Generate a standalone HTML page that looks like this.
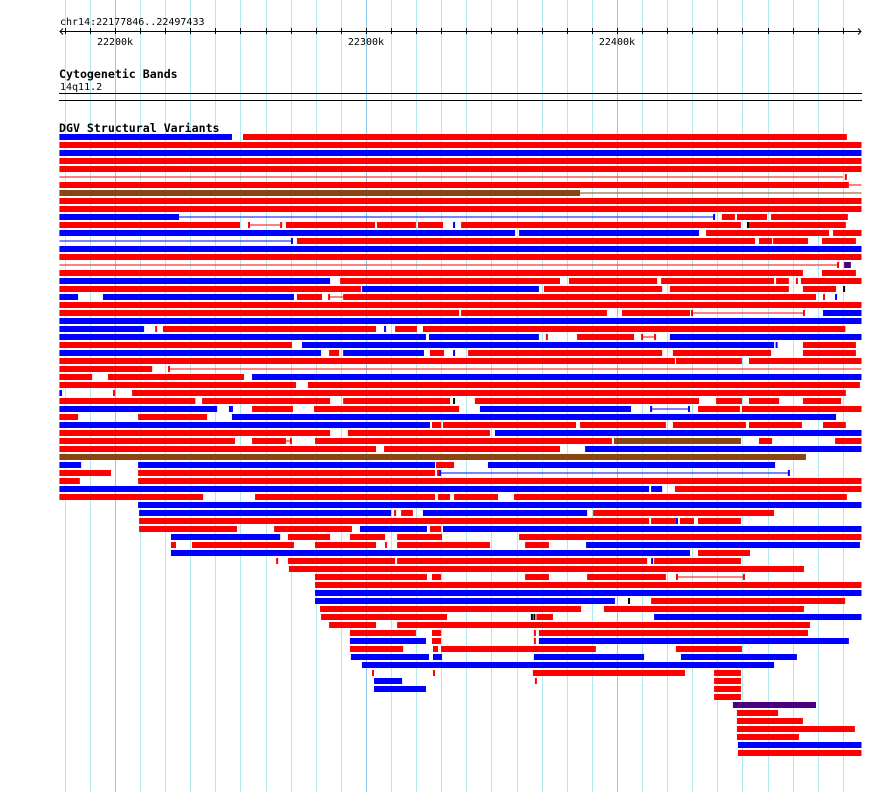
<!DOCTYPE html>
<html><head><meta charset="utf-8">
<style>
html,body{margin:0;padding:0;background:#fff;}
#wrap{position:relative;width:890px;height:792px;overflow:hidden;background:#fff;}
svg text{font-family:"DejaVu Sans Mono","Liberation Mono",monospace;}
</style></head>
<body>
<div id="wrap">
<svg id="chart" width="890" height="792" xmlns="http://www.w3.org/2000/svg">
  <g id="grid"></g>
  <g id="axis"></g>
  <text x="60" y="25" font-size="10" fill="#000">chr14:22177846..22497433</text>
  <text x="59" y="78" font-size="11.6" font-weight="bold" fill="#000">Cytogenetic Bands</text>
  <text x="60" y="90" font-size="10" fill="#000">14q11.2</text>
  <rect x="59" y="93" width="803" height="1" fill="#000"/>
  <rect x="59" y="100" width="803" height="1" fill="#000"/>
  <text x="59" y="132" font-size="11.6" font-weight="bold" fill="#000">DGV Structural Variants</text>
  <g id="variants"></g>
</svg>
</div>
<script>
const domainStart = 22177.846, domainEnd = 22497.433;
const tickStepKb = 10;
const tickLabels = ["22200k","22300k","22400k"];
const tickLabelValues = [22200,22300,22400];
const S = domainStart, E = domainEnd;
// rows of segments: [startKb, endKb, type] ; types: r,b,n,p bars; rl,bl,nl thin lines; rt,bt,kt ticks
const variantRows = [
[[S,246.6,'b'],[251,491.6,'r']],
[[S,E,'r']],
[[S,E,'b']],
[[S,E,'r']],
[[S,E,'r']],
[[S,490.1,'rl'],[491.2,491.2,'rt']],
[[S,492.4,'r'],[492.4,E,'rl']],
[[S,385.3,'n'],[385.3,E,'nl']],
[[S,E,'r']],
[[S,E,'r']],
[[S,225.1,'b'],[225.1,438.7,'bl'],[225.1,225.1,'bt'],[438.7,438.7,'bt'],[441.8,447,'r'],[447.8,459.8,'r'],[461.4,492,'r']],
[[S,249.8,'r'],[253.4,266.2,'rl'],[253.4,253.4,'rt'],[266.2,266.2,'rt'],[268.1,303.6,'r'],[304.4,319.9,'r'],[320.7,330.7,'r'],[335.1,335.1,'bt'],[337.9,449.4,'r'],[452.2,452.2,'kt'],[452.6,491.2,'r']],
[[S,359.4,'b'],[361,432.7,'b'],[435.5,484.5,'r'],[486.1,E,'r']],
[[S,270.5,'bl'],[270.5,270.5,'bt'],[272.5,455,'r'],[456.6,461.8,'r'],[462.2,476.1,'r'],[481.7,495.2,'r']],
[[S,E,'b']],
[[S,E,'r']],
[[S,488.1,'rl'],[488.1,488.1,'rt'],[490.5,493.2,'p']],
[[S,474.1,'r'],[481.7,495.2,'r']],
[[S,285.7,'b'],[289.7,377.3,'r'],[380.9,416,'r'],[417.6,462.6,'r'],[463.4,468.5,'r'],[471.7,471.7,'rt'],[473.3,E,'r']],
[[S,298,'r'],[298.4,368.9,'b'],[370.9,418,'r'],[421.1,468.5,'r'],[474.1,487.3,'r'],[490.5,490.5,'kt']],
[[S,185.3,'b'],[195.2,271.3,'b'],[272.5,282.5,'r'],[285.3,290.9,'rl'],[285.3,285.3,'rt'],[290.9,478.5,'r'],[478.9,478.9,'rt'],[482.5,482.5,'rt'],[487.3,487.3,'bt']],
[[S,E,'r']],
[[S,337.1,'r'],[337.9,396,'r'],[402,429.1,'r'],[429.9,474.5,'rl'],[429.9,429.9,'rt'],[474.5,474.5,'rt'],[482.1,E,'b']],
[[S,E,'b']],
[[S,211.6,'b'],[216.4,216.4,'rt'],[219.1,304,'r'],[307.6,307.6,'bt'],[311.6,320.3,'r'],[322.7,491,'r']],
[[S,323.9,'b'],[325.1,368.9,'b'],[372.1,372.1,'rt'],[384.1,406.8,'r'],[410,415.2,'rl'],[410,410,'rt'],[415.2,415.2,'rt'],[421.1,E,'b']],
[[S,270.5,'r'],[274.5,462.6,'b'],[463.6,463.6,'bt'],[474.1,495.2,'r']],
[[S,282.1,'b'],[285.3,289.3,'r'],[290.9,323.1,'b'],[325.5,331.1,'r'],[335.1,335.1,'bt'],[340.7,418,'r'],[422.3,461.4,'r'],[474.1,495.2,'r']],
[[S,423.1,'r'],[423.5,449.8,'r'],[452.6,E,'r']],
[[S,214.8,'r'],[221.5,E,'rl'],[221.5,221.5,'rt']],
[[S,190.9,'r'],[197.2,251.4,'r'],[254.6,E,'b']],
[[S,271.3,'r'],[271.7,271.7,'rt'],[276.9,496.8,'r']],
[[S,178.9,'b'],[199.6,199.6,'rt'],[206.8,491.2,'r']],
[[S,232,'r'],[234.7,285.7,'r'],[290.9,333.5,'r'],[335.1,335.1,'kt'],[343.4,432.7,'r'],[439.5,449.8,'r'],[452.6,464.6,'r'],[474.1,489.3,'r']],
[[S,240.7,'b'],[245.4,247,'b'],[254.6,270.9,'r'],[279.3,337.1,'r'],[345.4,405.6,'b'],[413.6,428.7,'bl'],[413.6,413.6,'bt'],[428.7,428.7,'bt'],[432.3,449,'r'],[449.8,E,'r']],
[[S,185.3,'r'],[209.2,236.7,'r'],[246.6,487.3,'b']],
[[S,325.5,'b'],[326.3,329.9,'r'],[330.7,383.7,'r'],[385.3,419.5,'r'],[422.3,451.4,'r'],[452.6,473.7,'r'],[482.1,491.2,'r']],
[[S,285.7,'r'],[292.8,349.4,'r'],[351.4,E,'b']],
[[S,247.8,'r'],[254.6,268.1,'r'],[268.1,270.1,'rl'],[270.1,270.1,'rt'],[279.7,398,'r'],[398.8,449.4,'n'],[456.6,461.8,'r'],[486.9,E,'r']],
[[S,304,'r'],[307.2,377.3,'r'],[387.3,E,'b']],
[[S,475.3,'n']],
[[S,186.5,'b'],[209.2,327.5,'b'],[327.9,335.1,'r'],[348.6,463,'b']],
[[S,198.4,'r'],[209.2,327.5,'r'],[328.7,328.7,'rt'],[329.5,468.5,'bl'],[329.5,329.5,'bt'],[468.5,468.5,'bt']],
[[S,186,'r'],[209.2,E,'r']],
[[S,412.8,'b'],[413.6,418,'b'],[423.1,E,'r']],
[[S,235.1,'r'],[255.8,327.5,'r'],[328.7,333.5,'r'],[335.1,352.6,'r'],[359,491.6,'r']],
[[209.2,E,'b']],
[[209.6,310,'b'],[311.6,311.6,'rt'],[314,318.7,'r'],[322.7,388.1,'b'],[390.5,462.6,'r']],
[[209.6,412.8,'r'],[413.6,423.5,'r'],[423.9,423.9,'bt'],[425.1,430.7,'r'],[432.3,449.4,'r']],
[[209.6,248.6,'r'],[263.4,294.4,'r'],[297.6,324.3,'b'],[325.5,329.9,'r'],[330.7,E,'b']],
[[222.3,265.8,'b'],[268.9,285.7,'r'],[293.6,307.6,'r'],[312.4,330.3,'r'],[361,E,'r']],
[[222.3,224.3,'r'],[230.7,271.3,'r'],[279.7,304,'r'],[308,308,'rt'],[312.4,349.4,'r'],[363.4,372.9,'r'],[387.7,496.8,'b']],
[[222.3,429.1,'b'],[432.3,453,'r']],
[[264.6,264.6,'rt'],[268.9,311.6,'r'],[312.4,412,'r'],[414,414,'bt'],[414.8,449.4,'r']],
[[269.3,474.5,'r']],
[[279.7,324.3,'r'],[326.3,329.9,'r'],[363.4,372.9,'r'],[388.1,419.5,'r'],[423.9,450.6,'rl'],[423.9,423.9,'rt'],[450.6,450.6,'rt']],
[[279.7,E,'r']],
[[279.7,E,'b']],
[[279.7,399.2,'b'],[404.8,404.8,'kt'],[413.6,490.9,'r']],
[[281.7,385.7,'r'],[394.8,474.5,'r']],
[[282.1,332.3,'r'],[366.1,366.1,'kt'],[367.1,367.1,'kt'],[367.9,374.5,'r'],[414.8,E,'b']],
[[285.3,304,'r'],[312.4,476.9,'r']],
[[293.6,319.9,'r'],[326.3,329.9,'r'],[367.3,367.3,'rt'],[368.9,476.1,'r']],
[[293.6,323.9,'b'],[326.3,329.9,'r'],[367.3,367.3,'rt'],[368.9,492.4,'b']],
[[293.6,314.8,'r'],[326.7,328.7,'r'],[329.9,391.6,'r'],[423.5,449.8,'r']],
[[294,325.1,'b'],[326.7,330.3,'b'],[366.9,410.8,'b'],[425.5,471.7,'b']],
[[298.4,462.6,'b']],
[[302.8,302.8,'rt'],[327.1,327.1,'rt'],[366.5,427.1,'r'],[438.7,449.4,'r']],
[[303.2,314.4,'b'],[367.7,367.7,'rt'],[438.7,449.4,'r']],
[[303.2,323.9,'b'],[438.7,449.4,'r']],
[[438.7,449.4,'r']],
[[446.2,479.3,'p']],
[[447.8,464.2,'r']],
[[447.8,474.1,'r']],
[[447.8,494.8,'r']],
[[447.8,472.5,'r']],
[[448.2,E,'b']],
[[448.2,E,'r']]
];
const colors = {r:'#ff0000',b:'#0000ff',n:'#8b4513',p:'#4b0082',k:'#000000'};
const X0 = 59.4, X1 = 861.5;
function xScale(kb){
  const v = kb < 1000 ? 22000 + kb : kb;
  return X0 + (v - domainStart) / (domainEnd - domainStart) * (X1 - X0);
}
const rowTop = 134, rowPitch = 8, barH = 6;
const NS = 'http://www.w3.org/2000/svg';
function mk(tag, attrs){ const e = document.createElementNS(NS, tag); for (const k in attrs) e.setAttribute(k, attrs[k]); return e; }

// grid
const grid = document.getElementById('grid');
for (let kb = 22180; kb <= 22497; kb += tickStepKb) {
  const x = Math.round(xScale(kb)) + 0.5;
  const major = kb % 100 === 0;
  const l = mk('line', {x1:x, x2:x, y1:0, y2:792, stroke: major ? '#8ecbe8' : '#b4e8ef', 'stroke-width':1});
  
  
  grid.appendChild(l);
}
// axis
const axis = document.getElementById('axis');
const al = mk('line', {x1:60, x2:861, y1:31.5, y2:31.5, stroke:'#000', 'stroke-width':1});


axis.appendChild(al);
const la = mk('path', {d:'M63 28.5 L60 31.5 L63 34.5 M858 28.5 L861 31.5 L858 34.5', stroke:'#000', fill:'none'});


axis.appendChild(la);
for (let kb = 22180; kb <= 22497; kb += tickStepKb) {
  const x = Math.round(xScale(kb)) + 0.5;
  const t = mk('line', {x1:x, x2:x, y1:28, y2:34, stroke:'#000', 'stroke-width':1});
  
  
  axis.appendChild(t);
}
tickLabels.forEach((lab, i) => {
  const t = mk('text', {x: xScale(tickLabelValues[i]), y: 45, 'font-size': 10, 'text-anchor':'middle', fill:'#000'});
  t.textContent = lab;
  
  
  axis.appendChild(t);
});
// variants
const vg = document.getElementById('variants');
variantRows.forEach((row, ri) => {
  const y = rowTop + ri * rowPitch;
  row.forEach(seg => {
    const a = xScale(seg[0]), b = xScale(seg[1]), type = seg[2];
    const col = colors[type[0]];
    let el;
    if (type.length === 1) {
      el = mk('rect', {x:a, y:y, width:Math.max(1, b - a), height:barH, fill:col});
      
      
    } else if (type[1] === 'l') {
      el = mk('rect', {x:a, y:y + 2.5, width:Math.max(1, b - a), height:1, fill:col});
      
      
    } else {
      el = mk('rect', {x:a - 1, y:y, width:2, height:barH, fill:col});
      
      
    }
    vg.appendChild(el);
  });
});
</script>
</body></html>
